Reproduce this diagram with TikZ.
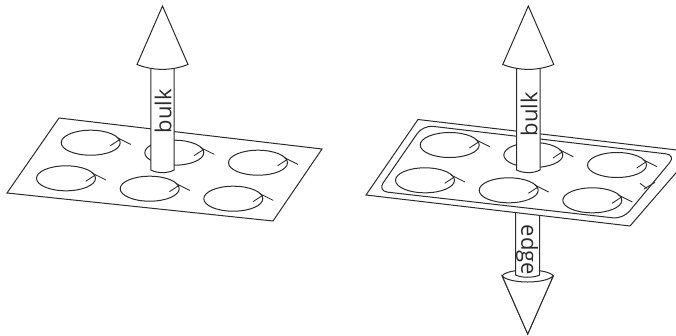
\documentclass[tikz,border=0pt]{standalone}
\usepackage{fontspec}
\setmainfont{Open Sans}
\usepackage{tikz}
\usetikzlibrary{positioning,calc}
\definecolor{inkline}{HTML}{2B2B2B}
\tikzset{
  plate/.style={draw=inkline,line width=1pt,fill=white,line join=miter},
  shaft/.style={draw=inkline,line width=1pt,fill=white},
  lbl/.style={inner sep=0pt,text=inkline,font=\fontsize{22}{22}\selectfont},
}
% one ring with its two short strokes
\newcommand{\ring}[2]{
  \draw[inkline,line width=1pt] (#1,#2) ellipse [x radius=29.5,y radius=12.5];
  \draw[inkline,line width=0.85pt] (#1+19.7,#2+3) -- (#1+29.3,#2-3.3);
  \draw[inkline,line width=0.85pt] (#1+26,#2-5.3) -- (#1+40,#2+1.7);
}
% upward arrow, axis at x=#1
\newcommand{\bulkarrow}[1]{
  \draw[shaft] (#1-11.7,60) -- (#1-11.7,170) .. controls (#1-5,173.5) and (#1+5,173.5) .. (#1+11.7,170) -- (#1+11.7,60) -- cycle;
  \draw[shaft] (#1,6) -- (#1+25.5,64.5) .. controls (#1+9,71) and (#1-9,71) .. (#1-25.5,64.5) -- cycle;
}
\begin{document}
\begin{tikzpicture}[x=1pt,y=-1pt]
\useasboundingbox (0,0) rectangle (676,335);
% left plate
\draw[plate] (59,118) -- (322,149) -- (273,221) -- (7,193) -- cycle;
\ring{90.7}{142.7}
\ring{174.3}{152.7}
\ring{258}{162.7}
\ring{66}{178.3}
\ring{149.7}{188.7}
\ring{233.3}{198.7}
\bulkarrow{162.5}
\node[lbl,rotate=90] (bulkleft) at (163,111) {bulk};
% right plate, lower arrow goes first
\draw[shaft] (527.7,334) -- (502.2,276) .. controls (506,268) and (549,268) .. (553.2,276) -- cycle;
\draw[inkline,line width=1pt,fill=white] (502.2,276) .. controls (510,284) and (545,284) .. (553.2,276) -- (527.7,334) -- cycle;
\draw[shaft] (515.7,205) -- (515.7,275) .. controls (522,278) and (533,278) .. (539.7,275) -- (539.7,205) -- cycle;
\node[lbl,rotate=-90] (edgebottom) at (527,250) {edge};
\draw[plate] (418,119.5) -- (694,152) -- (630,226) -- (366,195) -- cycle;
\draw[inkline,line width=1pt,rounded corners=10pt] (423,125.2) -- (676,155) -- (623,219) -- (377.5,191) -- cycle;
\ring{449.7}{145}
\ring{533.3}{155}
\ring{617}{165}
\ring{425}{180.3}
\ring{508.7}{190.3}
\ring{592.3}{200.3}
\draw[inkline,line width=0.85pt] (640,183.3) -- (646.7,188.3);
\draw[inkline,line width=0.85pt] (644,189) -- (655,182.3);
\bulkarrow{528.3}
\node[lbl,rotate=90] (bulkright) at (529,114) {bulk};
\end{tikzpicture}
\end{document}
